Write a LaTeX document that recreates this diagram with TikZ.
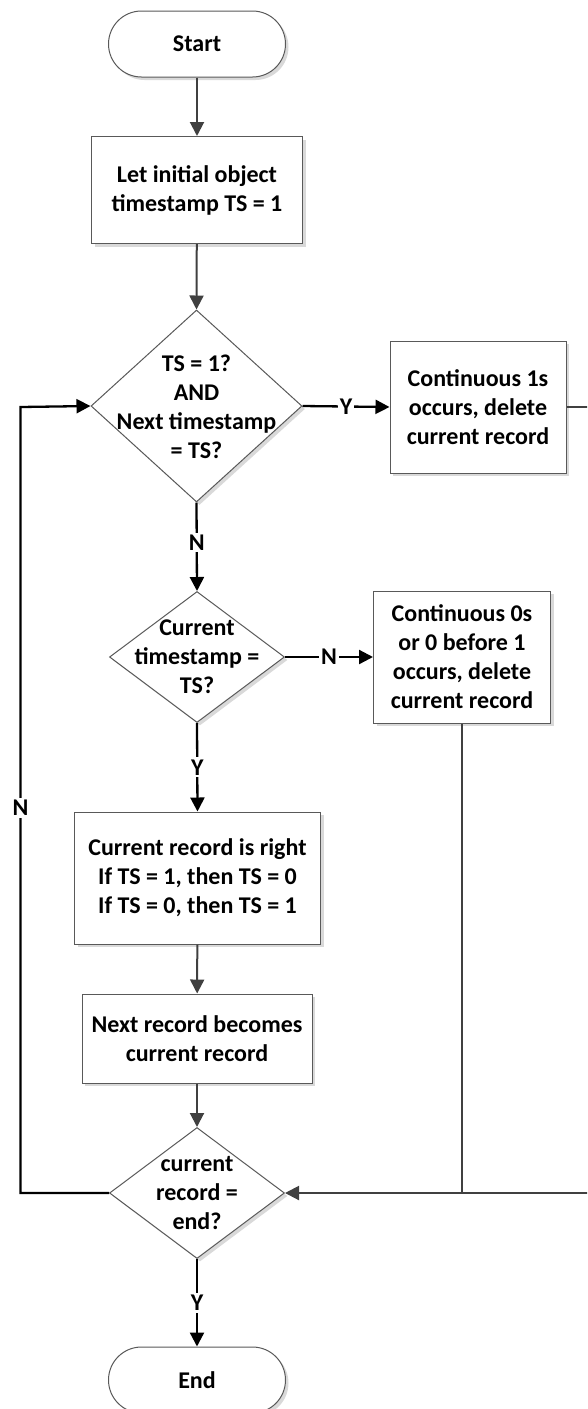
\documentclass[tikz,border=0pt]{standalone}
\usepackage{fontspec}
\setmainfont{Carlito}
\usetikzlibrary{shapes.geometric,arrows.meta,shadows}
\definecolor{linegray}{HTML}{404040}
\definecolor{boxgray}{HTML}{595959}
\definecolor{shadowgray}{HTML}{D9D9D9}
\tikzset{
  every node/.style={font=\fontsize{24}{29}\selectfont\bfseries},
  shd/.style={drop shadow={shadow xshift=3pt,shadow yshift=-3pt,fill=shadowgray,opacity=1}},
  box/.style={draw=boxgray,line width=1pt,fill=white,align=center,inner sep=0pt,shd},
  term/.style={box,rounded corners=33pt},
  dec/.style={diamond,draw=boxgray,line width=1pt,fill=white,inner sep=0pt,shd},
  dtext/.style={align=center,inner sep=0pt},
  conn/.style={draw=linegray,line width=2pt,-{Triangle[length=14pt,width=14pt]}},
  plain/.style={draw=linegray,line width=2pt},
  yn/.style={draw=black,line width=2.3pt,-{Triangle[length=14pt,width=14pt]}},
  lab/.style={fill=white,inner sep=2pt}
}
\begin{document}
\begin{tikzpicture}[x=1pt,y=-1pt]
\useasboundingbox (0,0) rectangle (587,1409);
\clip (0,0) rectangle (587,1409);
% nodes
\node[term,minimum width=177pt,minimum height=66pt] (start) at (197,44) {Start};
\node[box,minimum width=211pt,minimum height=107pt] (init) at (197,190) {Let initial object\\timestamp TS = 1};
\node[dec,minimum width=211pt,minimum height=192pt] (d1) at (196.5,406) {};
\node[dtext] (d1t) at (196.5,407) {TS = 1?\\AND\\Next timestamp\\= TS?};
\node[box,minimum width=176pt,minimum height=132pt] (b2) at (478,407) {Continuous 1s\\occurs, delete\\current record};
\node[dec,minimum width=175pt,minimum height=131pt] (d2) at (197,657) {};
\node[dtext] (d2t) at (197,657) {Current\\timestamp =\\TS?};
\node[box,minimum width=177pt,minimum height=132pt] (b3) at (462,657) {Continuous 0s\\or 0 before 1\\occurs, delete\\current record};
\node[box,minimum width=246pt,minimum height=132pt] (b4) at (197.5,878) {Current record is right\\If TS = 1, then TS = 0\\If TS = 0, then TS = 1};
\node[box,minimum width=230pt,minimum height=89pt] (b5) at (197,1038.5) {Next record becomes\\current record};
\node[dec,minimum width=175pt,minimum height=131pt] (d3) at (197,1193) {};
\node[dtext] (d3t) at (197,1193) {current\\record =\\end?};
\node[term,minimum width=177pt,minimum height=66pt] (end) at (197,1380) {End};
% coordinates
\coordinate (r1) at (610,407);
\coordinate (r2) at (610,1193);
\coordinate (l1) at (20.5,1193);
\coordinate (l2) at (20.5,407);
% connectors
\draw[conn] (start) -- (init);
\draw[conn] (init) -- (d1.north);
\draw[yn] (d1.east) -- node[lab]{Y} (b2.west);
\draw[yn] (d1.south) -- node[lab,pos=0.45]{N} (d2.north);
\draw[yn] (d2.east) -- node[lab,pos=0.5]{N} (b3.west);
\draw[yn] (d2.south) -- node[lab,pos=0.5]{Y} (b4.north);
\draw[conn] (b4) -- (b5);
\draw[conn] (b5) -- (d3.north);
\draw[yn] (d3.south) -- node[lab,pos=0.5]{Y} (end.north);
\draw[yn] (d3.west) -- (l1) -- node[lab,pos=0.49]{N} (l2) -- (d1.west);
\draw[conn] (b2.east) -- (r1) -- (r2) -- (d3.east);
\draw[plain] (b3.south) -- (b3.south |- d3.east);
\end{tikzpicture}
\end{document}
